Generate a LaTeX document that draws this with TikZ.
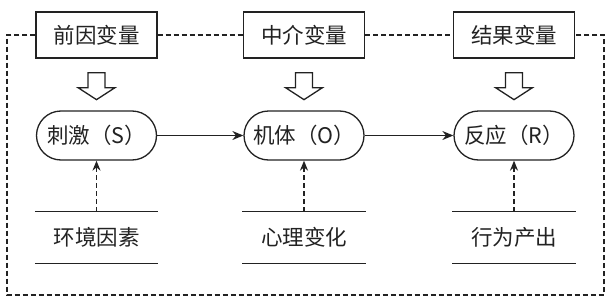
\documentclass[tikz,border=0pt]{standalone}
\usepackage{fontspec}
\newfontfamily\cjk{Noto Sans CJK SC}
\usetikzlibrary{arrows.meta,positioning,shapes.misc,calc}
\definecolor{Ink}{HTML}{222222}
\tikzset{
  varbox/.style={draw=Ink, line width=1.3pt, fill=white, minimum width=121pt, minimum height=46pt, inner sep=0pt},
  pill/.style={rounded rectangle, draw=Ink, line width=1.3pt, minimum width=120pt, minimum height=49pt, inner sep=0pt},
  factor/.style={minimum width=123pt, minimum height=51pt, inner sep=0pt},
  rule/.style={line width=1.3pt, draw=Ink},
  flow/.style={-{Stealth[length=11pt,width=9pt]}, line width=1.3pt, draw=Ink},
  dflow/.style={-{Stealth[length=10pt,width=8pt]}, line width=1.3pt, draw=Ink, dash pattern=on 5pt off 3pt},
  frame/.style={line width=1.3pt, draw=Ink, dash pattern=on 5pt off 3pt},
  hollow/.style={draw=Ink, line width=1.3pt, fill=white, line join=miter}
}

\begin{document}
\begin{tikzpicture}[x=1pt,y=1pt,every node/.style={text=Ink, font=\cjk\fontsize{21.5pt}{24pt}\selectfont}]
\useasboundingbox (0,0) rectangle (609,298);
\foreach \i/\x/\var/\core/\cause in {1/96.5/前因变量/刺激（S）/环境因素,2/304/中介变量/机体（O）/心理变化,3/514/结果变量/反应（R）/行为产出}{
  \node[varbox] (var\i) at (\x,263) {\var};
  \node[pill] (core\i) at (\x,162.5) {\core};
  \node[factor] (cause\i) at (\x,60.5) {\cause};
  \draw[rule] (cause\i.north west) -- (cause\i.north east) (cause\i.south west) -- (cause\i.south east);
  \draw[dflow] (cause\i.north) -- (core\i.south);
  % hollow arrow under the variable box
  \draw[hollow] ($(var\i.south)+(-8.5,-14)$) -- ++(17,0) -- ++(0,-15) -- ++(10,0) -- ++(-18.5,-12) -- ++(-18.5,12) -- ++(10,0) -- cycle;
}
\draw[flow] (core1.east) -- (core2.west);
\draw[flow] (core2.east) -- (core3.west);
% dashed frame
\coordinate (frameL) at (7,3);
\coordinate (frameR) at (604,3);
\draw[frame] (var1.west) -| (frameL) -- (frameR) |- (var3.east);
\draw[frame] (var1.east) -- (var2.west) (var2.east) -- (var3.west);
\end{tikzpicture}
\end{document}
